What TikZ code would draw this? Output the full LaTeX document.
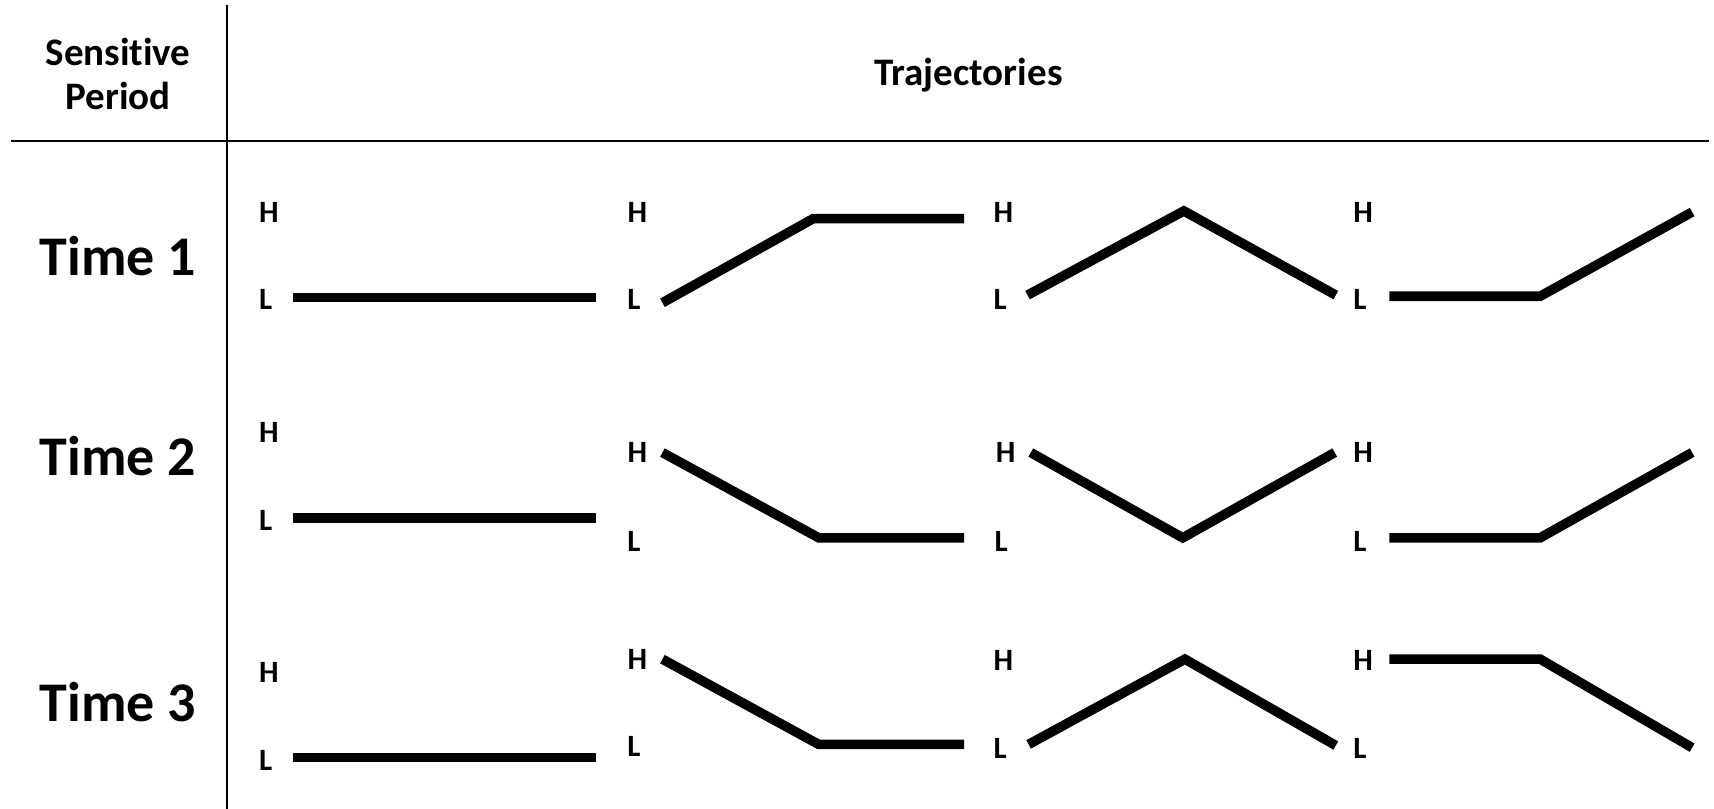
\documentclass[tikz,border=0pt]{standalone}
\usepackage{fontspec}
\setmainfont[Ligatures=NoCommon]{Carlito}
\begin{document}
\begin{tikzpicture}[x=0.5466pt,y=-0.5466pt,
  hl/.style={font=\bfseries\fontsize{15.5}{17}\selectfont,inner sep=0pt,anchor=center},
  tm/.style={font=\bfseries\fontsize{28}{30}\selectfont,inner sep=0pt,anchor=center},
  hd/.style={font=\bfseries\fontsize{19.5}{23}\selectfont,inner sep=0pt,align=center,anchor=center},
  traj/.style={line width=4.8pt,black},
  rule/.style={line width=1.1pt,black}]
\useasboundingbox (0,0) rectangle (1568,740);
% table rules
\draw[rule] (208,5) -- (208,740);
\draw[rule] (10,129) -- (1563,129);
% headers
\node[hd] (sp) at (108,68) {Sensitive\\[-1pt]Period};
\node[hd] (tr) at (886,69) {Trajectories};
\node[tm] (t1) at (108,234) {Time 1};
\node[tm] (t2) at (108,417) {Time 2};
\node[tm] (t3) at (108,642) {Time 3};
% row 1 labels
\node[hl] (h11) at (246,194) {H}; \node[hl] (l11) at (243,274) {L};
\node[hl] (h12) at (583,194) {H}; \node[hl] (l12) at (580,274) {L};
\node[hl] (h13) at (918,194) {H}; \node[hl] (l13) at (915,274) {L};
\node[hl] (h14) at (1247,194) {H}; \node[hl] (l14) at (1244,274) {L};
% row 2 labels
\node[hl] (h21) at (246,396) {H}; \node[hl] (l21) at (243,476) {L};
\node[hl] (h22) at (583,414) {H}; \node[hl] (l22) at (580,495) {L};
\node[hl] (h23) at (920,414) {H}; \node[hl] (l23) at (916,495) {L};
\node[hl] (h24) at (1247,414) {H}; \node[hl] (l24) at (1244,495) {L};
% row 3 labels
\node[hl] (h31) at (246,615) {H}; \node[hl] (l31) at (243,696) {L};
\node[hl] (h32) at (583,603) {H}; \node[hl] (l32) at (580,683) {L};
\node[hl] (h33) at (918,604) {H}; \node[hl] (l33) at (915,685) {L};
\node[hl] (h34) at (1247,604) {H}; \node[hl] (l34) at (1244,685) {L};
% row 1 trajectories
\draw[traj] (268,272) -- (545,272);
\draw[traj] (606,277) -- (744,200) -- (882,200);
\draw[traj] (940,270) -- (1083,193) -- (1222,270);
\draw[traj] (1271,271) -- (1409,271) -- (1548,194);
% row 2 trajectories
\draw[traj] (268,474) -- (545,474);
\draw[traj] (606,414) -- (749,492) -- (882,492);
\draw[traj] (943,414) -- (1082,492) -- (1221,414);
\draw[traj] (1271,492) -- (1409,492) -- (1548,414);
% row 3 trajectories
\draw[traj] (268,693) -- (545,693);
\draw[traj] (606,603) -- (749,681) -- (882,681);
\draw[traj] (941,681) -- (1084,603) -- (1222,682);
\draw[traj] (1271,603) -- (1409,603) -- (1548,684);
\end{tikzpicture}
\end{document}
